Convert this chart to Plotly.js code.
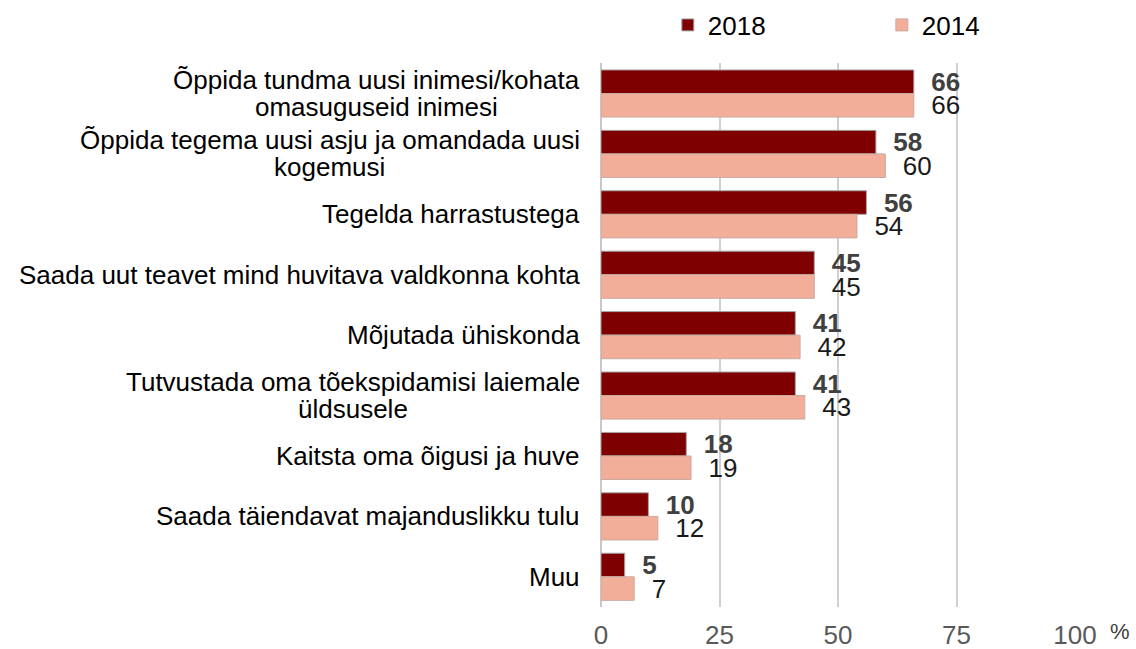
<!DOCTYPE html>
<html><head><meta charset="utf-8">
<script src="https://cdn.plot.ly/plotly-3.0.1.min.js"></script>
<style>html,body{margin:0;padding:0;background:#fff}#chart{width:1136px;height:649px}</style>
</head><body><div id="chart"></div>
<script>
const categories = [
  "Õppida tundma uusi inimesi/kohata<br>omasuguseid inimesi",
  "Õppida tegema uusi asju ja omandada uusi<br>kogemusi",
  "Tegelda harrastustega",
  "Saada uut teavet mind huvitava valdkonna kohta",
  "Mõjutada ühiskonda",
  "Tutvustada oma tõekspidamisi laiemale<br>üldsusele",
  "Kaitsta oma õigusi ja huve",
  "Saada täiendavat majanduslikku tulu",
  "Muu"
];
const values2018 = [66, 58, 56, 45, 41, 41, 18, 10, 5];
const values2014 = [66, 60, 54, 45, 42, 43, 19, 12, 7];
const xTicks = [0, 25, 50, 75, 100];

const fontFam = "Liberation Sans, Arial, sans-serif";
const FS = 26;
const pad = "\u00a0\u00a0";

// measure text widths with an SVG text node (same engine Plotly uses)
const NS = 'http://www.w3.org/2000/svg';
const msvg = document.createElementNS(NS, 'svg');
msvg.setAttribute('style', 'position:absolute;left:-5000px;top:0');
const mtxt = document.createElementNS(NS, 'text');
mtxt.setAttribute('style', 'font-family:' + fontFam + ';font-size:' + FS + 'px');
msvg.appendChild(mtxt);
document.body.appendChild(msvg);
function textW(s) { mtxt.textContent = s; return mtxt.getComputedTextLength(); }

const annotations = [];
categories.forEach((cat, ci) => {
  const lines = cat.split('<br>');
  const maxW = Math.max(...lines.map(textW));
  lines.forEach((ln, li) => {
    annotations.push({
      text: ln, xref: 'paper', yref: 'y', x: 0, y: ci,
      xanchor: 'center', yanchor: 'middle',
      xshift: -21 - maxW / 2,
      yshift: ((lines.length - 1) / 2) * 27 - li * 27,
      showarrow: false, font: {family: fontFam, size: FS, color: '#000'}
    });
  });
});
document.body.removeChild(msvg);
annotations.push({text:'%', xref:'paper', yref:'paper', x:1.095, y:-0.045,
  xanchor:'center', yanchor:'middle', showarrow:false,
  font:{family:fontFam, size:22, color:'#404040'}});

const data = [
  {type:'bar', orientation:'h', name:'2018', y:categories, x:values2018,
   marker:{color:'#7f0000', line:{color:'#a6a6a6', width:1}},
   text:values2018.map(v => pad + v), textposition:'outside', cliponaxis:false,
   constraintext:'none',
   textfont:{family:fontFam, size:FS, color:'#404040', weight:'bold'}},
  {type:'bar', orientation:'h', name:'2014', y:categories, x:values2014,
   marker:{color:'#f2ae98', line:{color:'#c9aaa0', width:1}},
   text:values2014.map(v => pad + v), textposition:'outside', cliponaxis:false,
   constraintext:'none',
   textfont:{family:fontFam, size:FS, color:'#1a1a1a'}}
];
const layout = {
  width:1136, height:649,
  margin:{l:601, r:61, t:63, b:42},
  paper_bgcolor:'#fff', plot_bgcolor:'#fff',
  font:{family:fontFam, size:FS, color:'#000'},
  barmode:'group', bargap:0.22, bargroupgap:0,
  showlegend:true,
  legend:{orientation:'h', xref:'paper', yref:'container', x:0.141, xanchor:'left',
          y:1 - 25/649, yanchor:'middle',
          entrywidth:169, entrywidthmode:'pixels',
          font:{family:fontFam, size:FS, color:'#000'},
          traceorder:'normal', itemclick:false, bgcolor:'rgba(0,0,0,0)'},
  xaxis:{range:[0,100], tickvals:xTicks, ticktext:xTicks.map(String),
         showgrid:true, gridcolor:'#d0d0d0', gridwidth:2, zeroline:true,
         zerolinecolor:'#c8c8c8', zerolinewidth:2, showline:false,
         tickfont:{family:fontFam, size:FS, color:'#595959'}, ticks:'', ticklen:0,
         ticklabelstandoff:10, automargin:false},
  yaxis:{autorange:'reversed', showticklabels:false, ticks:'', showline:false,
         showgrid:false, automargin:false},
  annotations: annotations
};
Plotly.newPlot('chart', data, layout, {displayModeBar:false, staticPlot:true});
</script></body></html>
